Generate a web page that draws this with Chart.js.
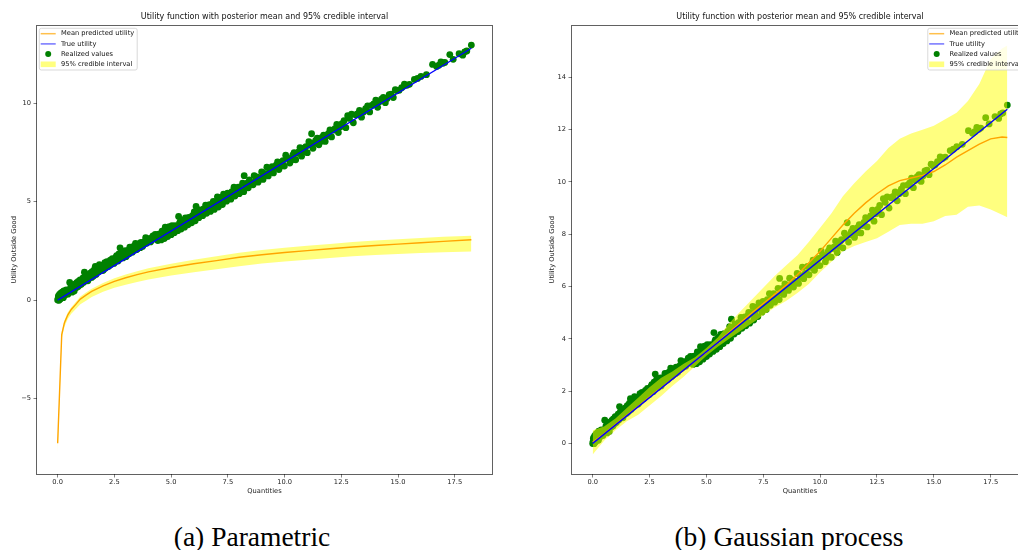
<!DOCTYPE html>
<html>
<head>
<meta charset="utf-8">
<script src="https://cdn.jsdelivr.net/npm/chart.js@4/dist/chart.umd.min.js"></script>
<style>
  html, body { margin: 0; padding: 0; background: #fff; }
  body { width: 1018px; height: 550px; overflow: hidden; position: relative; }
  canvas { position: absolute; top: 0; }
  #parametric { left: 0; }
  #gp { left: 509px; }
  .caption {
    position: absolute; top: 523px; line-height: 1; color: #000; white-space: nowrap;
    font-family: 'Liberation Serif', serif; font-size: 27.5px; transform: translateX(-50%);
  }
</style>
</head>
<body>
<canvas id="parametric" width="509" height="500"></canvas>
<canvas id="gp" width="530" height="500"></canvas>
<div class="caption" style="left:252px">(a) Parametric</div>
<div class="caption" style="left:789px">(b) Gaussian process</div>
<script>
// observed data (same in both panels)
const realizedX = [
  0.00, 0.03, 0.06, 0.10, 0.14, 0.18, 0.22, 0.27, 0.31, 0.36, 0.40, 0.45,
  0.53, 0.55, 0.60, 0.65, 0.70, 0.76, 0.81, 0.86, 0.91, 0.96, 1.01, 1.06,
  1.12, 1.18, 1.22, 1.28, 1.33, 1.38, 1.44, 1.50, 1.55, 1.61, 1.66, 1.72,
  1.78, 1.84, 1.90, 1.96, 2.02, 2.08, 2.14, 2.20, 2.26, 2.32, 2.38, 2.45,
  2.51, 2.57, 2.63, 2.70, 2.75, 2.78, 2.85, 2.92, 2.98, 3.05, 3.12, 3.18,
  3.25, 3.32, 3.40, 3.46, 3.53, 3.60, 3.67, 3.74, 3.81, 3.88, 3.95, 4.02,
  4.09, 4.16, 4.23, 4.30, 4.38, 4.45, 4.52, 4.60, 4.67, 4.74, 4.81, 4.89,
  4.96, 5.04, 5.11, 5.18, 5.26, 5.33, 5.40, 5.48, 5.55, 5.63, 5.70, 5.78,
  5.86, 5.94, 6.02, 6.10, 6.18, 6.26, 6.35, 6.43, 6.52, 6.60, 6.69, 6.78,
  6.86, 6.95, 7.04, 7.13, 7.22, 7.31, 7.40, 7.49, 7.58, 7.68, 7.77, 7.86,
  7.96, 8.05, 8.15, 8.22, 8.35, 8.45, 8.56, 8.66, 8.77, 8.88, 8.99, 9.10,
  9.22, 9.33, 9.45, 9.57, 9.69, 9.81, 9.93, 10.05, 10.17, 10.30, 10.42, 10.55,
  10.68, 10.81, 10.94, 11.07, 11.19, 11.30, 11.44, 11.58, 11.72, 11.86, 12.00, 12.15,
  12.30, 12.45, 12.62, 12.78, 12.95, 13.12, 13.30, 13.48, 13.66, 13.84, 14.02, 14.18,
  14.35, 14.52, 14.70, 14.88, 15.05, 15.28, 15.50, 15.72, 16.01, 16.25, 16.52, 16.70,
  16.89, 17.06, 17.28, 17.43, 17.69, 17.85, 18.03, 18.23,
  0.02, 0.08, 0.12, 0.16, 0.20, 0.25, 0.29, 0.34, 0.38, 0.43, 0.48, 0.58,
  0.63, 0.68, 0.73, 0.79, 0.84, 0.89, 0.94, 0.99, 1.04, 1.09, 1.15, 1.20,
  1.25, 1.31, 1.36, 1.41, 1.47, 1.52, 1.58, 1.64, 1.69, 1.75, 1.81, 1.87,
  1.93, 1.99, 2.05, 2.11, 2.17, 2.23, 2.29, 2.35, 2.41, 2.48, 2.54, 2.60,
  2.66, 2.73, 2.81, 2.88, 2.95, 3.01, 3.08, 3.15, 3.22, 3.29, 3.36, 3.43,
  3.50, 3.57, 3.64, 3.71, 3.78, 3.85, 3.92, 3.99, 4.06, 4.13, 4.20, 4.27,
  4.34, 4.41, 4.49, 4.56, 4.63, 4.70, 4.78, 4.85, 4.92, 5.00, 5.07, 5.14,
  5.22, 5.29, 5.37, 5.44, 5.52, 5.59, 5.67, 5.74, 5.82, 5.90, 5.98, 6.06,
  6.14, 6.22, 6.31, 6.39, 6.47, 6.56, 6.64, 6.73, 6.82, 6.90, 6.99, 7.08,
  7.17, 7.26, 7.35, 7.44, 7.53, 7.63, 7.72, 7.81, 7.91, 8.00, 8.10, 8.20,
  8.30, 8.40, 8.50, 8.61, 8.72, 8.83, 8.94, 9.05, 9.16, 9.28, 9.39, 9.51,
  9.63, 9.75, 9.87, 9.99, 10.11, 10.23, 10.36, 10.49, 10.62, 10.75, 10.88, 11.00,
  11.13, 11.25, 11.37, 11.51, 11.65, 11.79, 11.93, 12.07, 12.22, 12.37, 12.53, 12.70,
  12.86, 13.03, 13.21, 13.39, 13.57, 13.75, 13.93, 14.10, 14.27, 14.44, 14.61, 14.79,
  14.96, 15.16, 15.39, 15.86, 16.80, 16.98, 17.94
]
const realizedY = [
  0.00, 0.20, -0.01, 0.19, 0.35, 0.18, 0.30, 0.47, 0.24, 0.45, 0.38, 0.30,
  0.89, 0.54, 0.48, 0.68, 0.59, 0.81, 0.62, 0.78, 0.94, 0.75, 0.95, 0.86,
  1.12, 1.41, 1.01, 1.17, 0.98, 1.17, 1.36, 1.15, 1.35, 1.53, 1.71, 1.39,
  1.57, 1.79, 1.55, 1.75, 1.54, 1.90, 1.78, 1.89, 1.73, 2.03, 1.92, 2.05,
  1.94, 2.18, 2.12, 2.34, 2.65, 2.15, 2.36, 2.30, 2.51, 2.29, 2.52, 2.68,
  2.50, 2.71, 2.74, 2.55, 2.77, 2.72, 2.92, 2.72, 2.95, 3.17, 2.95, 3.12,
  2.95, 3.17, 3.12, 3.33, 3.12, 3.34, 3.29, 3.50, 3.45, 3.70, 3.42, 3.63,
  3.58, 3.78, 3.53, 3.78, 3.74, 4.24, 3.97, 3.76, 3.99, 4.17, 4.02, 4.20,
  4.05, 4.28, 4.47, 4.75, 4.38, 4.57, 4.40, 4.63, 4.82, 4.65, 4.84, 4.65,
  5.01, 4.95, 5.24, 4.95, 5.21, 5.37, 5.24, 5.43, 5.23, 5.50, 5.73, 5.53,
  5.73, 5.54, 5.93, 6.31, 5.93, 6.10, 5.95, 6.32, 6.25, 6.14, 6.50, 6.43,
  6.74, 6.48, 6.77, 6.73, 7.01, 6.78, 7.08, 7.35, 7.18, 7.10, 7.48, 7.45,
  7.74, 7.53, 7.79, 8.04, 8.44, 7.97, 8.22, 8.04, 8.37, 8.33, 8.63, 8.62,
  8.92, 8.78, 9.10, 9.36, 9.43, 9.40, 9.62, 9.55, 9.86, 9.88, 10.15, 10.06,
  10.28, 10.23, 10.45, 10.68, 10.65, 10.96, 10.95, 11.20, 11.35, 11.44, 11.96, 11.86,
  12.09, 12.06, 12.46, 12.22, 12.50, 12.43, 12.64, 12.94,
  0.08, 0.28, 0.05, 0.22, 0.40, 0.12, 0.33, 0.28, 0.52, 0.42, 0.50, 0.66,
  0.40, 0.75, 0.46, 0.70, 0.88, 0.67, 0.85, 1.02, 0.80, 1.05, 0.90, 1.18,
  1.30, 1.05, 1.28, 1.12, 1.27, 1.44, 1.22, 1.42, 1.30, 1.60, 1.45, 1.62,
  1.70, 1.50, 1.68, 1.62, 1.95, 1.70, 1.86, 1.80, 2.10, 1.86, 2.04, 2.25,
  1.98, 2.16, 2.45, 2.14, 2.40, 2.20, 2.45, 2.35, 2.62, 2.43, 2.60, 2.88,
  2.58, 2.85, 2.66, 2.88, 2.80, 2.98, 2.88, 3.08, 3.05, 3.02, 3.26, 3.10,
  3.22, 3.02, 3.22, 3.05, 3.36, 3.12, 3.48, 3.22, 3.72, 3.32, 3.66, 3.42,
  3.62, 3.52, 3.90, 3.60, 4.05, 3.70, 4.05, 3.82, 4.00, 3.92, 4.15, 4.02,
  4.22, 4.18, 4.38, 4.28, 4.48, 4.40, 4.58, 4.50, 4.88, 4.60, 5.00, 4.72,
  5.10, 4.85, 5.22, 5.02, 5.20, 5.12, 5.35, 5.28, 5.45, 5.40, 5.62, 5.50,
  5.75, 5.70, 5.88, 5.85, 6.05, 5.98, 6.20, 6.12, 6.35, 6.30, 6.52, 6.45,
  6.85, 6.62, 7.00, 6.80, 7.20, 6.95, 7.35, 7.12, 7.52, 7.30, 7.72, 7.48,
  7.88, 7.70, 8.10, 7.88, 8.25, 8.05, 8.45, 8.28, 8.70, 8.50, 8.95, 8.75,
  9.22, 9.00, 9.45, 9.28, 9.72, 9.55, 9.95, 9.78, 10.20, 10.02, 10.42, 10.28,
  10.62, 10.78, 10.90, 11.25, 11.92, 12.02, 12.60
]
const trueX = [0, 18.23]
const trueY = [0, 12.78]

// (a) parametric posterior
const paramX = [0, 0.18, 0.3, 0.45, 0.6, 0.8, 1, 1.25, 1.5, 2, 2.5, 3, 3.5, 4, 5, 6, 7, 8, 9, 10, 11, 12, 13, 14, 15, 16, 17, 18.23]
const paramMean = [-7.27, -1.75, -1.15, -0.75, -0.48, -0.22, 0.05, 0.25, 0.44, 0.72, 0.95, 1.13, 1.29, 1.43, 1.65, 1.84, 2.00, 2.17, 2.30, 2.41, 2.51, 2.60, 2.69, 2.77, 2.84, 2.91, 2.98, 3.06]
const paramLower = [-7.78, -1.95, -1.35, -0.95, -0.70, -0.45, -0.22, -0.03, 0.15, 0.42, 0.62, 0.78, 0.92, 1.04, 1.24, 1.41, 1.56, 1.72, 1.85, 1.95, 2.05, 2.13, 2.22, 2.29, 2.34, 2.39, 2.43, 2.46]
const paramUpper = [-7.20, -1.60, -1.02, -0.62, -0.36, -0.10, 0.18, 0.38, 0.57, 0.86, 1.10, 1.29, 1.46, 1.61, 1.84, 2.05, 2.22, 2.40, 2.54, 2.66, 2.76, 2.85, 2.94, 3.02, 3.09, 3.15, 3.21, 3.26]

// (b) gaussian process posterior
const gpX = [0, 0.5, 1, 1.5, 2, 2.5, 3, 3.5, 4, 4.5, 5, 5.5, 6, 6.5, 7, 7.5, 8, 8.5, 9, 9.5, 10, 10.5, 11, 11.5, 12, 12.5, 13, 13.5, 14, 14.5, 15, 15.5, 16, 16.5, 17, 17.5, 18, 18.23]
const gpMean = [0.05, 0.37, 0.72, 1.08, 1.42, 1.78, 2.12, 2.46, 2.80, 3.15, 3.50, 3.87, 4.25, 4.62, 5.00, 5.35, 5.70, 6.05, 6.45, 6.90, 7.35, 7.85, 8.35, 8.80, 9.20, 9.55, 9.85, 10.05, 10.15, 10.25, 10.40, 10.65, 10.95, 11.20, 11.45, 11.65, 11.72, 11.70]
const gpUpper = [0.50, 0.65, 0.95, 1.35, 1.75, 2.15, 2.50, 2.75, 3.05, 3.30, 3.65, 4.05, 4.60, 5.05, 5.50, 5.95, 6.40, 6.80, 7.20, 7.70, 8.25, 8.80, 9.45, 9.95, 10.40, 10.80, 11.30, 11.65, 11.85, 12.00, 12.15, 12.40, 12.65, 13.10, 13.75, 14.70, 15.10, 15.22]
const gpLower = [-0.42, 0.10, 0.50, 0.85, 1.10, 1.45, 1.80, 2.20, 2.55, 2.95, 3.35, 3.70, 4.00, 4.30, 4.60, 4.90, 5.20, 5.45, 5.75, 6.10, 6.55, 6.95, 7.35, 7.55, 7.70, 7.85, 8.10, 8.35, 8.40, 8.40, 8.50, 8.70, 8.75, 9.05, 9.10, 8.95, 8.75, 8.65]

// ticks
const xTicks = [0, 2.5, 5, 7.5, 10, 12.5, 15, 17.5]
const paramYTicks = [-5, 0, 5, 10]
const gpYTicks = [0, 2, 4, 6, 8, 10, 12, 14]

const legendLabels = ['Mean predicted utility', 'True utility', 'Realized values', '95% credible interval']
const chartTitle = 'Utility function with posterior mean and 95% credible interval'

const FONT = 'DejaVu Sans'
const smallFont = { family: FONT, size: 6.7 }
const inkColor = '#222'
const spineColor = 'rgba(0,0,0,0.62)'

function toPoints(xs, ys) {
  return xs.map((x, i) => ({ x: x, y: ys[i] }))
}

// matplotlib-like box around the axes
const framePlugin = {
  id: 'frame',
  afterDatasetsDraw(chart) {
    const { ctx, chartArea: a } = chart
    ctx.save()
    ctx.strokeStyle = spineColor
    ctx.lineWidth = 1
    ctx.strokeRect(Math.round(a.left) - 0.5, Math.round(a.top) - 0.5,
      Math.round(a.right - a.left) + 1, Math.round(a.bottom - a.top) + 1)
    ctx.restore()
  }
}

function legendPlugin(side) {
  return {
    id: 'mplLegend',
    afterDraw(chart) {
      const { ctx, chartArea: a } = chart
      ctx.save()
      ctx.font = '6.7px "DejaVu Sans"'
      const textW = Math.max(...legendLabels.map(t => ctx.measureText(t).width))
      const w = 1.4 + 15 + 5.3 + textW + 3
      const h = 41.7
      const x0 = side === 'left' ? a.left + 2.3 : a.right - 2.3 - w
      const y0 = a.top + 2.7
      ctx.fillStyle = 'rgba(255,255,255,0.8)'
      ctx.strokeStyle = '#cfcfcf'
      ctx.lineWidth = 0.8
      ctx.beginPath()
      ctx.roundRect(x0, y0, w, h, 2)
      ctx.fill()
      ctx.stroke()

      const hx = x0 + 1.4
      legendLabels.forEach((label, i) => {
        const cy = y0 + 5.4 + i * 10.2
        if (i < 2) {
          ctx.strokeStyle = i === 0 ? 'rgba(255,165,0,0.7)' : 'rgba(0,0,255,0.55)'
          ctx.lineWidth = 1.5
          ctx.beginPath()
          ctx.moveTo(hx, cy)
          ctx.lineTo(hx + 15, cy)
          ctx.stroke()
        } else if (i === 2) {
          ctx.fillStyle = '#008000'
          ctx.beginPath()
          ctx.arc(hx + 7.5, cy, 3, 0, Math.PI * 2)
          ctx.fill()
        } else {
          ctx.fillStyle = 'rgba(255,255,0,0.5)'
          ctx.fillRect(hx, cy - 2.8, 15, 5.6)
        }
        ctx.fillStyle = '#111'
        ctx.textBaseline = 'middle'
        ctx.fillText(label, hx + 20.3, cy)
      })
      ctx.restore()
    }
  }
}

function buildChart(id, opts) {
  return new Chart(document.getElementById(id), {
    type: 'line',
    data: {
      datasets: [
        {
          label: legendLabels[2],
          data: toPoints(realizedX, realizedY),
          showLine: false,
          pointRadius: 3.4,
          pointHoverRadius: 3.4,
          pointBackgroundColor: '#008000',
          pointBorderWidth: 0,
          order: 4,
        },
        {
          label: 'lower bound',
          data: toPoints(opts.x, opts.lower),
          borderColor: 'rgba(0,0,0,0)',
          borderWidth: 0,
          pointRadius: 0,
          fill: false,
          order: 3,
        },
        {
          label: legendLabels[3],
          data: toPoints(opts.x, opts.upper),
          borderColor: 'rgba(0,0,0,0)',
          borderWidth: 0,
          pointRadius: 0,
          fill: '-1',
          backgroundColor: 'rgba(255,255,0,0.5)',
          order: 3,
        },
        {
          label: legendLabels[0],
          data: toPoints(opts.x, opts.mean),
          borderColor: '#ffa500',
          borderWidth: 1.4,
          pointRadius: 0,
          fill: false,
          order: 2,
        },
        {
          label: legendLabels[1],
          data: toPoints(trueX, trueY),
          borderColor: '#0000ff',
          borderWidth: 1.4,
          pointRadius: 0,
          fill: false,
          order: 1,
        },
      ],
    },
    options: {
      responsive: false,
      animation: false,
      devicePixelRatio: 1,
      events: [],
      elements: { line: { tension: 0 } },
      layout: { padding: { left: 0, right: opts.padRight, top: 0, bottom: 0 } },
      plugins: {
        legend: { display: false },
        tooltip: { enabled: false },
        title: {
          display: true,
          text: chartTitle,
          fullSize: false,
          color: '#111',
          font: { family: FONT, size: 8, weight: 'normal', lineHeight: 1.2 },
          padding: { top: 12, bottom: 4 },
        },
      },
      scales: {
        x: {
          type: 'linear',
          min: -0.91,
          max: 19.14,
          afterBuildTicks: s => { s.ticks = xTicks.map(v => ({ value: v })) },
          afterFit: s => { s.height = 26 },
          grid: { drawOnChartArea: false, drawTicks: true, tickLength: 3.5, color: spineColor, lineWidth: 0.8 },
          border: { display: false },
          ticks: { font: smallFont, color: inkColor, padding: 1, maxRotation: 0, autoSkip: false, callback: v => v.toFixed(1) },
          title: { display: true, text: 'Quantities', font: smallFont, color: inkColor, padding: { top: 0, bottom: 5 } },
        },
        y: {
          type: 'linear',
          min: opts.yMin,
          max: opts.yMax,
          afterBuildTicks: s => { s.ticks = opts.yTicks.map(v => ({ value: v })) },
          afterFit: s => { s.width = opts.yAxisWidth },
          grid: { drawOnChartArea: false, drawTicks: true, tickLength: 3.5, color: spineColor, lineWidth: 0.8 },
          border: { display: false },
          ticks: { font: smallFont, color: inkColor, padding: 2.5, autoSkip: false, callback: v => (v < 0 ? '\u2212' + (-v) : String(v)) },
          title: { display: true, text: 'Utility Outside Good', font: smallFont, color: inkColor, padding: { top: opts.yTitlePad, bottom: 0 } },
        },
      },
    },
    plugins: [framePlugin, legendPlugin(opts.legendSide)],
  })
}

buildChart('parametric', {
  x: paramX, mean: paramMean, lower: paramLower, upper: paramUpper,
  yMin: -8.83, yMax: 13.93, yTicks: paramYTicks,
  yAxisWidth: 37, yTitlePad: 10, padRight: 17, legendSide: 'left',
})

buildChart('gp', {
  x: gpX, mean: gpMean, lower: gpLower, upper: gpUpper,
  yMin: -1.17, yMax: 15.98, yTicks: gpYTicks,
  yAxisWidth: 63, yTitlePad: 39, padRight: 11, legendSide: 'right',
})
</script>
</body>
</html>
